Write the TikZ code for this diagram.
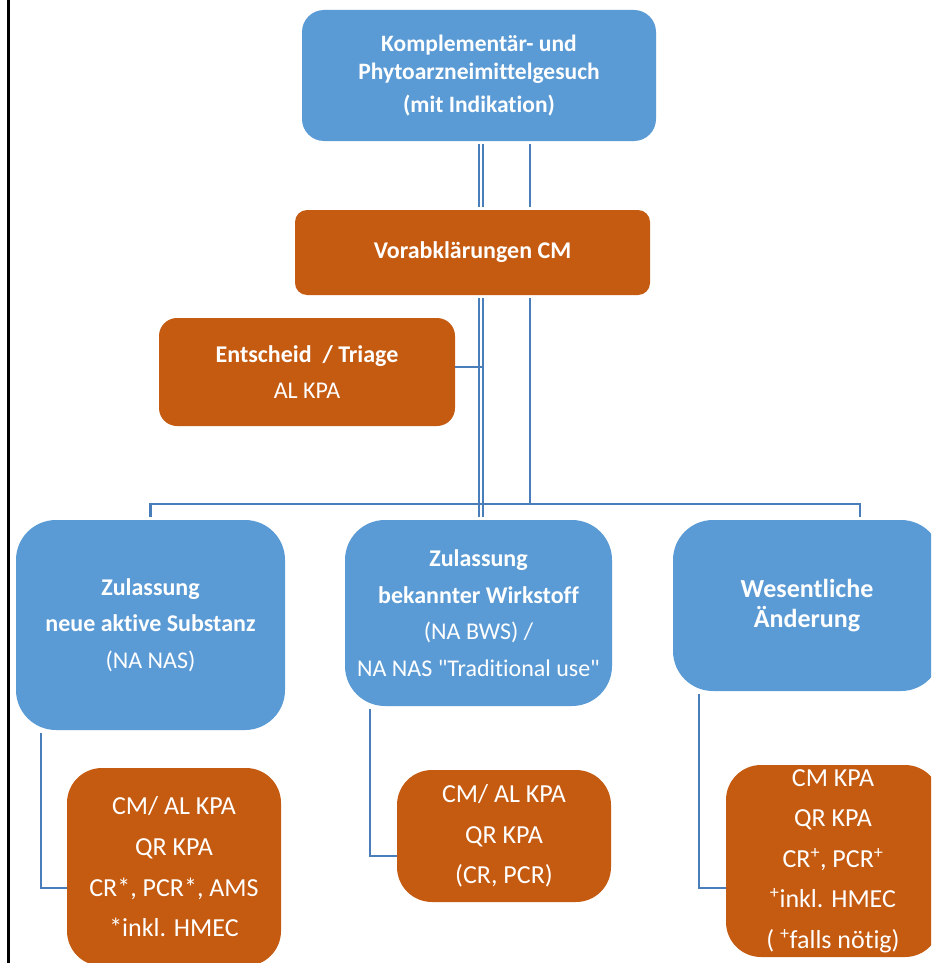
\documentclass[tikz,border=0pt]{standalone}
\usepackage{fontspec}
\setmainfont[Ligatures={TeX,NoCommon}]{Carlito}
\newfontfamily\quotefont[Ligatures=NoCommon]{Carlito}
\definecolor{boxblue}{HTML}{5B9BD5}
\definecolor{boxorange}{HTML}{C55A11}
\definecolor{linkblue}{HTML}{4A7EBB}
\tikzset{
  x=1pt, y=-1pt,
  box/.style={rectangle, inner sep=0pt, text=white, align=center, anchor=center},
  bluebox/.style={box, fill=boxblue},
  orangebox/.style={box, fill=boxorange},
  conn/.style={draw=linkblue, line width=2.5pt},
}
\begin{document}
\begin{tikzpicture}
\useasboundingbox (0,0) rectangle (931,963);
\clip (0,0) rectangle (931,963);
\fill[white] (0,0) rectangle (931,963);
\draw[black, line width=3pt] (8,-5) -- (8,970);

% top level
\node[bluebox, minimum width=354pt, minimum height=131pt, rounded corners=22pt,
      font=\fontsize{23.5}{28}\selectfont\bfseries] (top) at (479,75.5)
  {Komplementär- und\\Phytoarzneimittelgesuch\\[5pt](mit Indikation)};
\node[orangebox, minimum width=355pt, minimum height=85pt, rounded corners=12pt,
      font=\fontsize{24}{29}\selectfont\bfseries] (vor) at (472.5,252.5)
  {Vorabklärungen CM};
\node[orangebox, minimum width=296pt, minimum height=108pt, rounded corners=18pt,
      font=\fontsize{24}{36}\selectfont] (ent) at (307,372)
  {\textbf{Entscheid\ \ / Triage}\\AL KPA};

% second level
\node[bluebox, minimum width=269pt, minimum height=210pt, rounded corners=40pt,
      font=\fontsize{24}{36.5}\selectfont] (b1) at (150.5,625)
  {\textbf{Zulassung}\\\textbf{neue aktive Substanz}\\(NA NAS)};
\node[bluebox, minimum width=267pt, minimum height=186pt, rounded corners=40pt,
      font=\fontsize{24}{36.5}\selectfont] (b2) at (478.5,613)
  {\textbf{Zulassung}\\\textbf{bekannter Wirkstoff}\\(NA BWS) /\\NA NAS {\quotefont"}Traditional use{\quotefont"}};
\node[bluebox, minimum width=268pt, minimum height=171pt, rounded corners=40pt,
      font=\fontsize{26}{29.5}\selectfont\bfseries] (b3) at (807,605.5)
  {Wesentliche\\Änderung};

% third level
\node[orangebox, minimum width=214pt, minimum height=198pt, rounded corners=35pt,
      font=\fontsize{26}{40.7}\selectfont] (o1) at (174,867)
  {CM/ AL KPA\\QR KPA\\CR*, PCR*, AMS\\*inkl. HMEC};
\node[orangebox, minimum width=214pt, minimum height=132pt, rounded corners=35pt,
      font=\fontsize{26}{40.5}\selectfont] (o2) at (504,836)
  {CM/ AL KPA\\QR KPA\\(CR, PCR)};
\node[orangebox, minimum width=214pt, minimum height=192pt, rounded corners=35pt,
      font=\fontsize{26}{40.5}\selectfont] (o3) at (833,861)
  {CM KPA\\QR KPA\\CR\textsuperscript{+}, PCR\textsuperscript{+}\\\textsuperscript{+}inkl. HMEC\\( \textsuperscript{+}falls nötig)};

% connectors
\coordinate (bar) at (0,504);
\draw[conn, line width=2pt] ([yshift=-3pt]top.south -| 479,0) -- ([yshift=3pt]vor.north -| 479,0);
\draw[conn, line width=2pt] ([yshift=-3pt]top.south -| 482.5,0) -- ([yshift=3pt]vor.north -| 482.5,0);
\draw[conn] ([yshift=-3pt]top.south -| 530,0) -- ([yshift=3pt]vor.north -| 530,0);
\draw[conn, line width=2pt] ([yshift=-3pt]vor.south -| 479,0) -- ([yshift=3pt]b2.north -| 479,0);
\draw[conn, line width=2pt] ([yshift=-3pt]vor.south -| 482.5,0) -- ([yshift=3pt]b2.north -| 482.5,0);
\draw[conn] ([yshift=5pt]ent.east) -- ([yshift=5pt]ent.east -| 483.5,0);
\draw[conn] ([yshift=-3pt]vor.south -| 530,0) -- (bar -| 530,0);
\draw[conn] ([yshift=3pt]b1.north) -- (b1.north |- bar) -- (bar -| 860,0) -- ([yshift=3pt]b3.north -| 860,0);
\draw[conn] ([yshift=-3pt]b1.south -| 41,0) |- (o1.west |- 0,888);
\draw[conn] ([yshift=-3pt]b2.south -| 370,0) |- (o2.west |- 0,856);
\draw[conn] ([yshift=-3pt]b3.south -| 699,0) |- (o3.west |- 0,888);
\end{tikzpicture}
\end{document}
